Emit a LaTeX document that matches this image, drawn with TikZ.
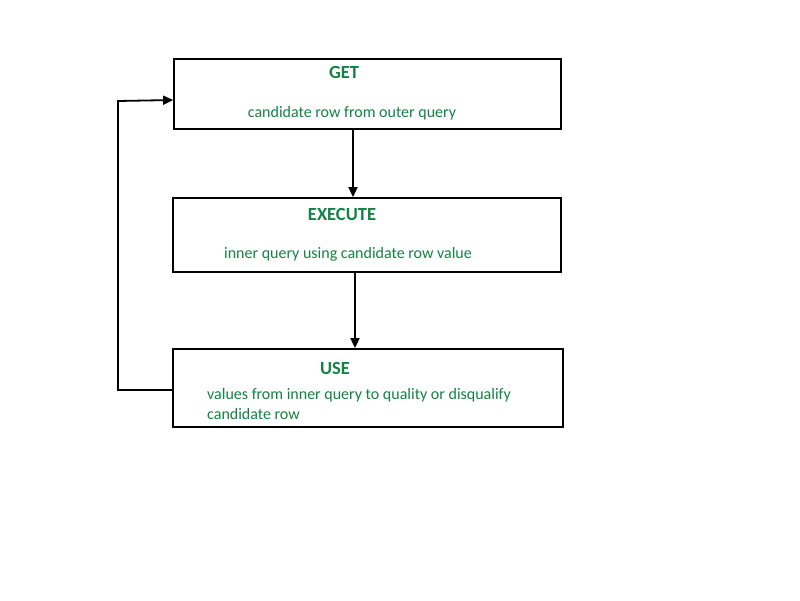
\documentclass[tikz,border=0pt]{standalone}
\usepackage{fontspec}
\setmainfont{Carlito}
\usetikzlibrary{arrows.meta}
\definecolor{txtgreen}{RGB}{20,130,70}
\tikzset{
  box/.style={draw=black, line width=1.8pt, inner sep=0pt},
  lbl/.style={text=txtgreen, inner sep=0pt, font=\fontsize{16}{19}\selectfont},
  head/.style={lbl, font=\fontsize{18.5}{22}\selectfont\bfseries},
  arr/.style={draw=black, line width=1.8pt, -{Triangle[length=10pt,width=9pt]}}
}
\begin{document}
\begin{tikzpicture}[x=1pt,y=-1pt]
\useasboundingbox (0,0) rectangle (800,600);
\fill[white] (0,0) rectangle (800,600);
\node[box, minimum width=387pt, minimum height=70pt] (get) at (367.5,94) {};
\node[box, minimum width=388pt, minimum height=74pt] (exec) at (367,235) {};
\node[box, minimum width=390pt, minimum height=78pt] (use) at (368,388) {};
\node[head] (t1) at (344,72) {GET};
\node[lbl] (s1) at (352,113) {candidate row from outer query};
\node[head] (t2) at (342,214) {EXECUTE};
\node[lbl] (s2) at (348,254) {inner query using candidate row value};
\node[head] (t3) at (335,368) {USE};
\node[lbl, anchor=west] (s3a) at (207,395) {values from inner query to quality or disqualify};
\node[lbl, anchor=west] (s3b) at (207,413.5) {candidate row};
\coordinate (lb) at (118,390);
\coordinate (lt) at (118,101);
\draw[arr] ([xshift=-14.5pt]get.south) -- ([xshift=-14pt]exec.north);
\draw[arr] ([xshift=-12pt]exec.south) -- ([xshift=-13pt]use.north);
\draw[arr] ([yshift=-2pt]use.west) -- (lb) -- (lt) -- ([yshift=-6pt]get.west);
\end{tikzpicture}
\end{document}
